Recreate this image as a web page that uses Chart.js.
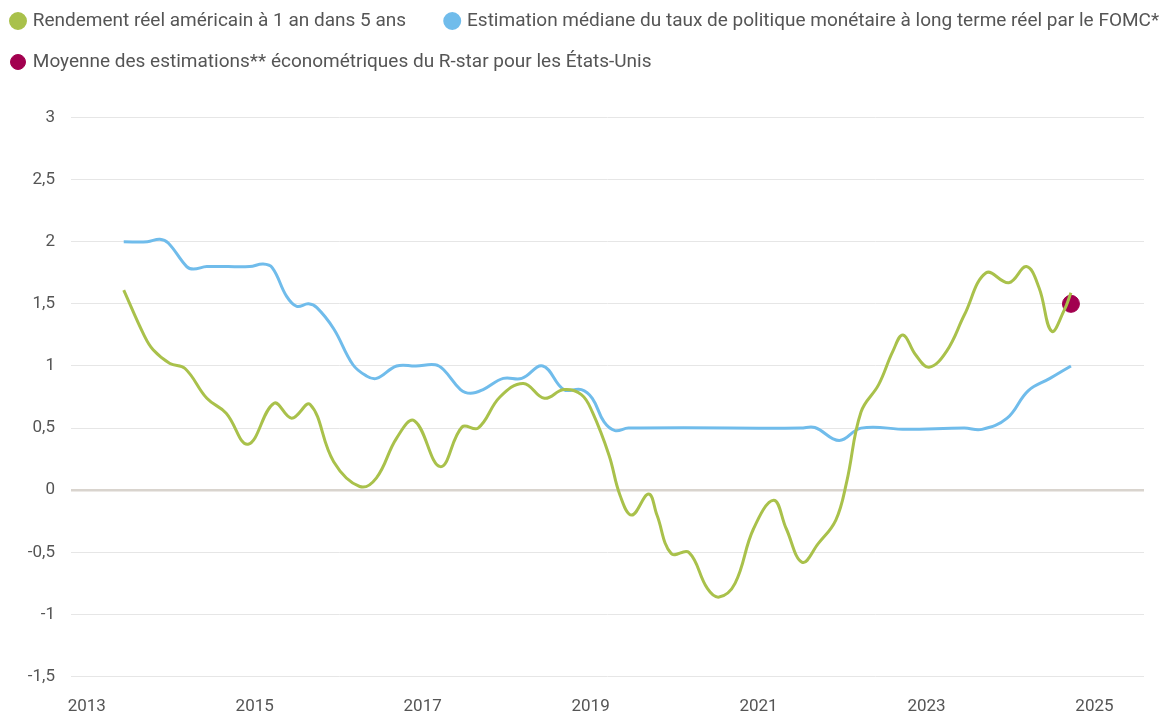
<!DOCTYPE html>
<html>
<head>
<meta charset="utf-8">
<script src="https://cdn.jsdelivr.net/npm/chart.js@4/dist/chart.umd.min.js"></script>
<style>
  html, body { margin: 0; padding: 0; background: #fff; }
  #wrap { width: 1168px; height: 713px; }
</style>
</head>
<body>
<div id="wrap"><canvas id="chart"></canvas></div>
<script>
// rendement réel américain à 1 an dans 5 ans (années décimales)
const greenYears = [2013.44, 2013.68, 2013.79, 2013.99, 2014.17, 2014.43, 2014.66, 2014.92, 2015.23, 2015.44,
  2015.66, 2015.94, 2016.25, 2016.45, 2016.69, 2016.90, 2017.21, 2017.47, 2017.66, 2017.92,
  2018.20, 2018.45, 2018.68, 2018.89, 2019.02, 2019.22, 2019.35, 2019.49, 2019.69, 2019.79,
  2019.96, 2020.17, 2020.39, 2020.53, 2020.72, 2020.94, 2021.18, 2021.33, 2021.52, 2021.71,
  2021.92, 2022.05, 2022.22, 2022.43, 2022.60, 2022.72, 2022.87, 2023.03, 2023.24, 2023.45,
  2023.71, 2023.98, 2024.19, 2024.34, 2024.49, 2024.64, 2024.72];
const greenValues = [1.61, 1.25, 1.13, 1.02, 0.98, 0.74, 0.62, 0.37, 0.70, 0.58,
  0.69, 0.23, 0.03, 0.10, 0.42, 0.56, 0.19, 0.51, 0.50, 0.75,
  0.86, 0.74, 0.81, 0.77, 0.63, 0.28, -0.04, -0.20, -0.03, -0.20,
  -0.51, -0.50, -0.79, -0.86, -0.75, -0.31, -0.08, -0.31, -0.58, -0.43,
  -0.24, 0.07, 0.63, 0.85, 1.12, 1.25, 1.09, 0.99, 1.12, 1.41,
  1.75, 1.67, 1.80, 1.63, 1.28, 1.45, 1.59];

// estimation médiane du FOMC
const blueYears = [2013.44, 2013.72, 2013.87, 2013.97, 2014.19, 2014.27, 2014.43, 2014.94, 2015.10, 2015.21,
  2015.38, 2015.50, 2015.64, 2015.74, 2015.94, 2016.17, 2016.33, 2016.45, 2016.69, 2016.92,
  2017.15, 2017.25, 2017.45, 2017.57, 2017.72, 2017.96, 2018.18, 2018.43, 2018.68, 2018.89,
  2019.02, 2019.16, 2019.29, 2019.45, 2021.50, 2021.67, 2021.96, 2022.22, 2022.76, 2023.45,
  2023.66, 2023.96, 2024.21, 2024.47, 2024.72];
const blueValues = [2.00, 2.00, 2.02, 1.99, 1.80, 1.78, 1.80, 1.80, 1.82, 1.79,
  1.56, 1.48, 1.50, 1.47, 1.30, 1.01, 0.92, 0.90, 1.00, 1.00,
  1.01, 0.97, 0.81, 0.78, 0.81, 0.90, 0.90, 1.00, 0.81, 0.81,
  0.74, 0.55, 0.48, 0.50, 0.50, 0.505, 0.40, 0.50, 0.49, 0.50,
  0.49, 0.58, 0.80, 0.90, 1.00];

// moyenne des estimations du R-star
const dotYears = [2024.72];
const dotValues = [1.5];

const xTicks = [2013, 2015, 2017, 2019, 2021, 2023, 2025];
const labels = [
  'Rendement réel américain à 1 an dans 5 ans',
  'Estimation médiane du taux de politique monétaire à long terme réel par le FOMC*',
  'Moyenne des estimations** économétriques du R-star pour les États-Unis'
];

const toPoints = (xs, ys) => xs.map((x, i) => ({ x: x, y: ys[i] }));
const fr = v => String(v).replace('.', ',');

// légende : plus haute, deux premiers items sur la même ligne, décalée à gauche
const legendTweak = {
  id: 'legendTweak',
  beforeInit(chart) {
    const fit = chart.legend.fit;
    chart.legend.fit = function () {
      this.maxWidth = 1400;
      fit.call(this);
      this.height += 36;
    };
  },
  afterLayout(chart) {
    chart.legend.left = -9.3;
    chart.legend.right = 1400;
  }
};

new Chart(document.getElementById('chart'), {
  type: 'line',
  data: {
    datasets: [
      {
        label: labels[0],
        data: toPoints(greenYears, greenValues),
        borderColor: '#a9c14b',
        backgroundColor: '#a9c14b',
        borderWidth: 3,
        pointRadius: 0,
        tension: 0.4
      },
      {
        label: labels[1],
        data: toPoints(blueYears, blueValues),
        borderColor: '#70bceb',
        backgroundColor: '#70bceb',
        borderWidth: 3,
        pointRadius: 0,
        tension: 0.4
      },
      {
        label: labels[2],
        data: toPoints(dotYears, dotValues),
        borderColor: '#a2004f',
        backgroundColor: '#a2004f',
        showLine: false,
        pointRadius: 8.5,
        pointHoverRadius: 8.5
      }
    ]
  },
  options: {
    responsive: true,
    maintainAspectRatio: false,
    animation: false,
    layout: { padding: { top: -10.5, left: 0, right: 24, bottom: -16 } },
    plugins: {
      tooltip: { enabled: false },
      legend: {
        position: 'top',
        align: 'start',
        labels: {
          usePointStyle: true,
          pointStyle: 'circle',
          boxWidth: 10.6,
          boxHeight: 10.6,
          padding: 22,
          color: '#555',
          font: { family: 'Roboto', size: 19 },
          generateLabels: chart => {
            const items = Chart.defaults.plugins.legend.labels.generateLabels(chart);
            items[0].text += '    ';
            return items;
          }
        }
      }
    },
    scales: {
      x: {
        type: 'linear',
        min: 2012.812,
        max: 2025.59,
        afterBuildTicks: scale => { scale.ticks = xTicks.map(v => ({ value: v })); },
        grid: { display: false },
        border: { display: false },
        ticks: {
          color: '#555',
          padding: 12,
          maxRotation: 0,
          font: { family: 'Roboto', size: 17 },
          callback: v => String(v)
        }
      },
      y: {
        min: -1.5,
        max: 3,
        afterFit: scale => { scale.width = 71; },
        ticks: {
          stepSize: 0.5,
          color: '#555',
          padding: 16,
          font: { family: 'Roboto', size: 17 },
          callback: v => fr(v)
        },
        border: { display: false },
        grid: {
          drawTicks: false,
          color: ctx => ctx.tick && ctx.tick.value === 0 ? '#d9d4ce' : '#e6e6e6',
          lineWidth: ctx => ctx.tick && ctx.tick.value === 0 ? 2.5 : 1
        }
      }
    }
  },
  plugins: [legendTweak]
});
</script>
</body>
</html>
